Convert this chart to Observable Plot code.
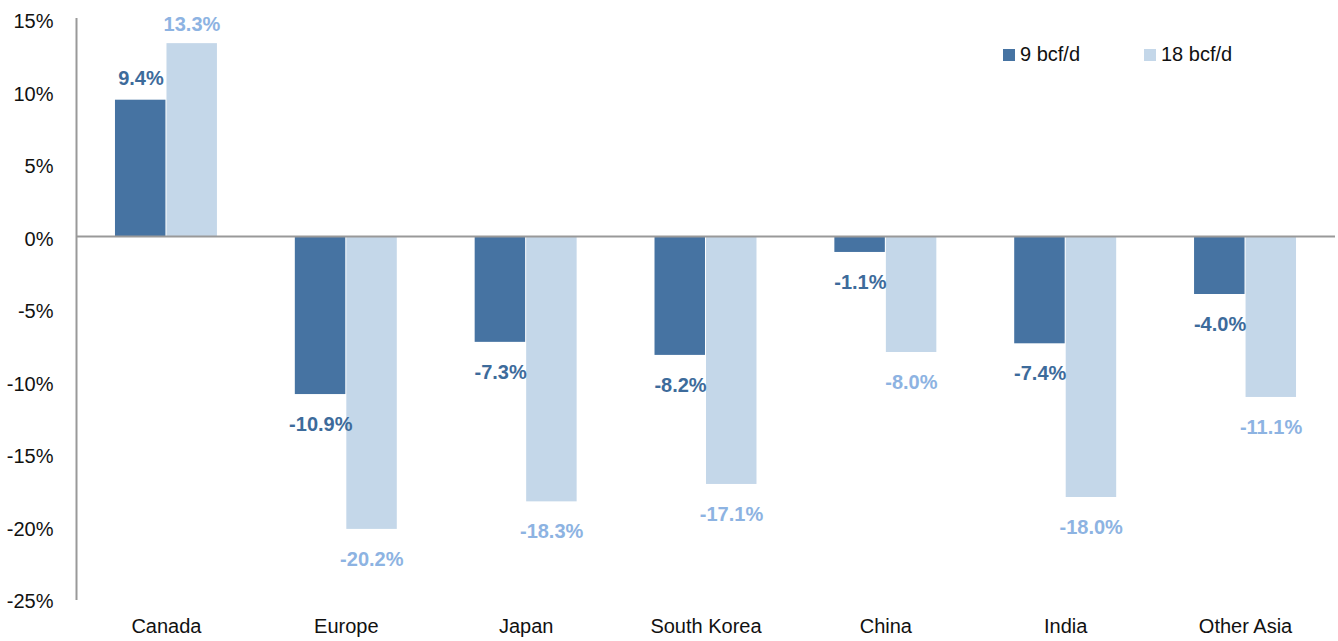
<!DOCTYPE html>
<html>
<head>
<meta charset="utf-8">
<script src="https://cdn.jsdelivr.net/npm/d3@7"></script>
<script src="https://cdn.jsdelivr.net/npm/@observablehq/plot@0.6"></script>
<style>
  body { margin: 0; background: #fff; font-family: "Liberation Sans", Arial, sans-serif; }
  #wrap { position: relative; width: 1338px; height: 641px; }
  .legend { position: absolute; top: 43px; font-size: 20px; color: #111; display: flex; align-items: center; }
  .sw { width: 12px; height: 12px; display: inline-block; margin-right: 5px; }
</style>
</head>
<body>
<div id="wrap"></div>
<script>
const categories = ["Canada", "Europe", "Japan", "South Korea", "China", "India", "Other Asia"];
const seriesNames = ["9 bcf/d", "18 bcf/d"];
const values9 = [9.4, -10.9, -7.3, -8.2, -1.1, -7.4, -4.0];
const values18 = [13.3, -20.2, -18.3, -17.1, -8.0, -18.0, -11.1];
const yTicks = [15, 10, 5, 0, -5, -10, -15, -20, -25];
const colors = ["#4673a2", "#c4d7e9"];
const labelColors = ["#3d6b9b", "#8db3e2"];

const d9 = categories.map((c, i) => ({cat: c, series: seriesNames[0], value: values9[i]}));
const d18 = categories.map((c, i) => ({cat: c, series: seriesNames[1], value: values18[i]}));
const fmt = v => v.toFixed(1) + "%";

const half = 51.5;
const chart = Plot.plot({
  width: 1338,
  height: 641,
  marginLeft: 76,
  marginRight: 3,
  marginTop: 18.5,
  marginBottom: 42.5,
  style: {fontFamily: "'Liberation Sans', Arial, sans-serif", background: "#fff", color: "#111"},
  x: {domain: categories, paddingInner: 0.433, paddingOuter: 0.2167, round: false, label: null, tickSize: 0, tickPadding: 20},
  y: {domain: [-25, 15], ticks: yTicks, tickFormat: d => d + "%", tickSize: 0, tickPadding: 23, label: null},
  marks: [
    Plot.barY(d9, {x: "cat", y: "value", fill: colors[0], insetRight: half}),
    Plot.barY(d18, {x: "cat", y: "value", fill: colors[1], insetLeft: half}),
    Plot.frame({anchor: "left", stroke: "#999", strokeWidth: 2}),
    Plot.ruleY([0], {stroke: "#999", strokeWidth: 2}),
    Plot.text(d9.filter(d => d.value >= 0), {x: "cat", y: "value", text: d => fmt(d.value), dx: -25.5, dy: -22, fill: labelColors[0], fontWeight: "bold", fontSize: 20}),
    Plot.text(d9.filter(d => d.value < 0), {x: "cat", y: "value", text: d => fmt(d.value), dx: -25.5, dy: 30, fill: labelColors[0], fontWeight: "bold", fontSize: 20}),
    Plot.text(d18.filter(d => d.value >= 0), {x: "cat", y: "value", text: d => fmt(d.value), dx: 25.5, dy: -19, fill: labelColors[1], fontWeight: "bold", fontSize: 20}),
    Plot.text(d18.filter(d => d.value < 0), {x: "cat", y: "value", text: d => fmt(d.value), dx: 25.5, dy: 30, fill: labelColors[1], fontWeight: "bold", fontSize: 20})
  ]
});
chart.style.fontSize = "20px";
d3.select(chart).selectAll("g[aria-label='x-axis tick label'] text, g[aria-label='y-axis tick label'] text").attr("font-size", 20);
d3.select(chart).selectAll("g[aria-label='y-axis tick label']").each(function() {
  const t = this.getAttribute("transform") || "";
  this.setAttribute("transform", (t + " translate(0,3)").trim());
});
const wrap = document.getElementById("wrap");
wrap.appendChild(chart);

const legendPos = [1003, 1144];
seriesNames.forEach((s, i) => {
  const item = document.createElement("div");
  item.className = "legend";
  item.style.left = legendPos[i] + "px";
  const sw = document.createElement("span");
  sw.className = "sw";
  sw.style.background = colors[i];
  item.appendChild(sw);
  item.appendChild(document.createTextNode(s));
  wrap.appendChild(item);
});
</script>
</body>
</html>
